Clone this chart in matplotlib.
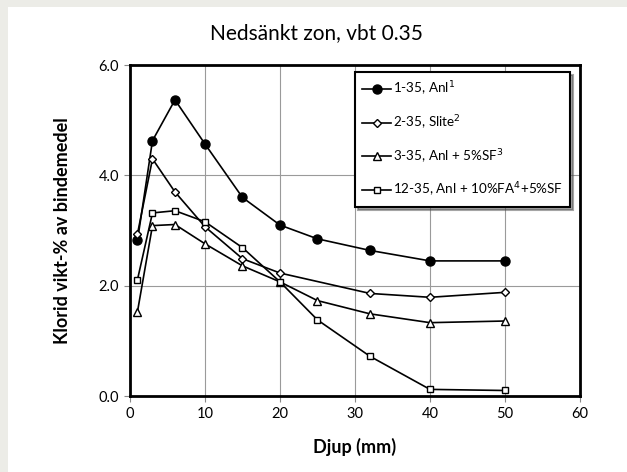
import matplotlib
matplotlib.use("Agg")
import matplotlib.pyplot as plt

plt.rcParams["font.family"] = ["Lato", "DejaVu Sans"]

# Data
depth = [1, 3, 6, 10, 15, 20, 25, 32, 40, 50]
depth_slite = [1, 3, 6, 10, 15, 20, 32, 40, 50]

anl = [2.82, 4.63, 5.37, 4.57, 3.60, 3.10, 2.85, 2.64, 2.45, 2.45]
slite = [2.94, 4.30, 3.70, 3.07, 2.49, 2.23, 1.86, 1.79, 1.88]
anl_sf = [1.53, 3.09, 3.11, 2.76, 2.36, 2.07, 1.73, 1.49, 1.33, 1.36]
anl_fa_sf = [2.11, 3.32, 3.36, 3.16, 2.69, 2.07, 1.38, 0.72, 0.12, 0.10]

labels = [
    r"1-35, Anl$^1$",
    r"2-35, Slite$^2$",
    r"3-35, Anl + 5%SF$^3$",
    r"12-35, Anl + 10%FA$^4$+5%SF",
]

fig = plt.figure(figsize=(6.27, 4.72), dpi=100)
fig.patch.set_facecolor("#ecece7")
# white panel inside the grey border
fig.add_artist(plt.Rectangle((8 / 627, 0), 1, 1 - 7 / 472,
                             transform=fig.transFigure, facecolor="white",
                             edgecolor="none", zorder=-10))

ax = fig.add_axes([0.2073, 0.161, 0.7177, 0.701])

ax.plot(depth, anl, "k-", marker="o", markersize=6.5, lw=1.2,
        markerfacecolor="black", label=labels[0])
ax.plot(depth_slite, slite, "k-", marker="D", markersize=4.2, lw=1.2,
        markerfacecolor="white", markeredgewidth=1.0, label=labels[1])
ax.plot(depth, anl_sf, "k-", marker="^", markersize=5.5, lw=1.2,
        markerfacecolor="white", markeredgewidth=1.0, label=labels[2])
ax.plot(depth, anl_fa_sf, "k-", marker="s", markersize=5, lw=1.2,
        markerfacecolor="white", markeredgewidth=1.0, label=labels[3])

ax.set_xlim(0, 60)
ax.set_ylim(0, 6)
ax.set_xticks(range(0, 61, 10))
ax.set_yticks([0, 2, 4, 6])
ax.set_yticklabels(["0.0", "2.0", "4.0", "6.0"])
ax.grid(True, color="#9a9a9a", linewidth=0.8)
ax.set_axisbelow(True)
for sp in ax.spines.values():
    sp.set_linewidth(2)
    sp.set_color("black")
ax.tick_params(axis="both", labelsize=10.5, length=4, color="#888888",
               pad=4)

ax.set_xlabel("Djup (mm)", fontsize=13, fontweight="bold", labelpad=12)
ax.set_ylabel("Klorid vikt-% av bindemedel", fontsize=13, fontweight="bold",
              labelpad=20)
fig.text(0.505, 0.93, "Nedsänkt zon, vbt 0.35", fontsize=15, ha="center",
         va="center")

leg = ax.legend(loc="upper left", bbox_to_anchor=(0.5, 0.978),
                fontsize=9.7, frameon=True, fancybox=False, shadow=True,
                labelspacing=1.15, handlelength=2.1, handletextpad=0.15,
                borderpad=0.55, borderaxespad=0)
leg.get_frame().set_edgecolor("black")
leg.get_frame().set_linewidth(1.5)

fig.savefig("out.png", dpi=100, facecolor=fig.get_facecolor())
